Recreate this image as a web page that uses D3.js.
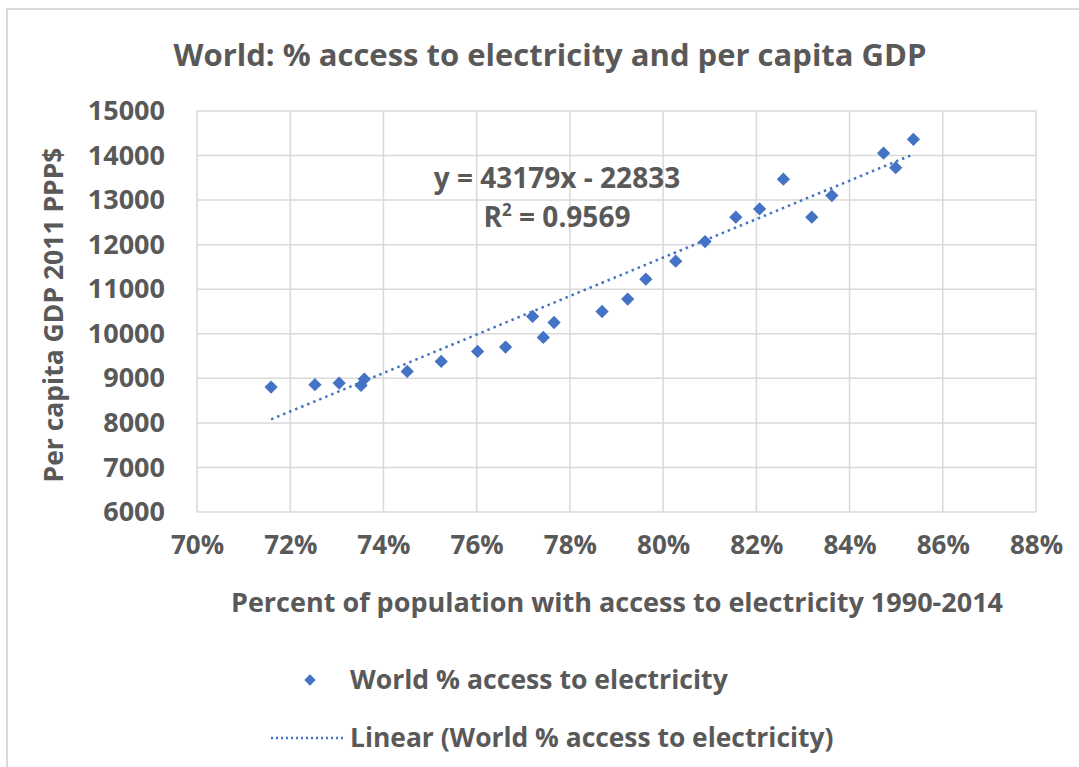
<!DOCTYPE html>
<html>
<head>
<meta charset="utf-8">
<script src="https://cdn.jsdelivr.net/npm/d3@7"></script>
<style>
  body { margin: 0; background: #fff; }
  text { font-family: "Open Sans", sans-serif; font-weight: 700; fill: #595959; }
</style>
</head>
<body>
<div id="theGraph"></div>
<script>
// access to electricity (share), 1990-2014
const access = [0.7159, 0.7253, 0.7305, 0.7352, 0.7359, 0.7451, 0.7524, 0.7602, 0.7662,
    0.7720, 0.7743, 0.7766, 0.7869, 0.7924, 0.7963, 0.8027, 0.8090, 0.8156,
    0.8207, 0.8258, 0.8319, 0.8362, 0.8473, 0.8499, 0.8537];
// per capita GDP, 2011 PPP$
const gdp = [8805, 8857, 8895, 8840, 8984, 9155, 9379, 9603, 9702,
    10388, 9917, 10253, 10500, 10778, 11226, 11630, 12070, 12617,
    12803, 13469, 12617, 13101, 14052, 13729, 14365];
const xTicks = [0.70, 0.72, 0.74, 0.76, 0.78, 0.80, 0.82, 0.84, 0.86, 0.88];
const yTicks = [6000, 7000, 8000, 9000, 10000, 11000, 12000, 13000, 14000, 15000];
const slope = 43179, intercept = -22833;

const width = 1079, height = 767,
    plot = {left: 197, top: 111, right: 1036, bottom: 512},
    blue = "#4472C4", grid = "#d9d9d9";

const svg = d3.select("#theGraph").append("svg").attr("width", width).attr("height", height);

// outer chart border
svg.append("rect").attr("x", 7).attr("y", 9).attr("width", 1100).attr("height", 800)
    .attr("fill", "none").attr("stroke", grid).attr("stroke-width", 2);

const xScale = d3.scaleLinear().domain([0.70, 0.88]).range([plot.left, plot.right]);
const yScale = d3.scaleLinear().domain([6000, 15000]).range([plot.bottom, plot.top]);

//grid
svg.append("g").selectAll("line").data(yTicks).enter().append("line")
    .attr("x1", plot.left).attr("x2", plot.right)
    .attr("y1", d=>yScale(d)).attr("y2", d=>yScale(d))
    .attr("stroke", grid).attr("stroke-width", 1.5);
svg.append("g").selectAll("line").data(xTicks).enter().append("line")
    .attr("x1", d=>xScale(d)).attr("x2", d=>xScale(d))
    .attr("y1", plot.top).attr("y2", plot.bottom)
    .attr("stroke", grid).attr("stroke-width", 1.5);

//axes (labels only)
const yAxis = svg.append("g").attr("transform", `translate(${plot.left - 32},0)`)
    .call(d3.axisLeft(yScale).tickValues(yTicks).tickSize(0).tickPadding(0).tickFormat(d3.format("d")));
const xAxis = svg.append("g").attr("transform", `translate(0,${plot.bottom + 24})`)
    .call(d3.axisBottom(xScale).tickValues(xTicks).tickSize(0).tickPadding(0).tickFormat(d3.format(".0%")));
[yAxis, xAxis].forEach(a => {
    a.select(".domain").remove();
    a.selectAll("text").attr("font-size", 27).attr("fill", "#595959")
        .style("font-family", "'Open Sans', sans-serif").style("font-weight", 700);
});
xAxis.selectAll("text").attr("font-size", 26);

//trendline
const xr = d3.extent(access);
svg.append("line")
    .attr("x1", xScale(xr[0])).attr("y1", yScale(slope * xr[0] + intercept))
    .attr("x2", xScale(xr[1])).attr("y2", yScale(slope * xr[1] + intercept))
    .attr("stroke", blue).attr("stroke-width", 2.5)
    .attr("stroke-dasharray", "2.5,4");

//points
const diamond = d3.symbol().type(d3.symbolSquare).size(88);
svg.append("g").selectAll("path").data(access).enter().append("path")
    .attr("d", diamond)
    .attr("transform", (d, i) => `translate(${xScale(d)},${yScale(gdp[i])}) rotate(45)`)
    .attr("fill", blue);

//texts
svg.append("text").attr("x", 550).attr("y", 66).attr("text-anchor", "middle").attr("font-size", 31)
    .text("World: % access to electricity and per capita GDP");
svg.append("text").attr("x", 617).attr("y", 612).attr("text-anchor", "middle").attr("font-size", 27)
    .text("Percent of population with access to electricity 1990-2014");
svg.append("text").attr("transform", "translate(63,315) rotate(-90)").attr("text-anchor", "middle").attr("font-size", 26.5)
    .text("Per capita GDP 2011 PPP$");

svg.append("text").attr("x", 557).attr("y", 188).attr("text-anchor", "middle").attr("font-size", 28)
    .text(`y = ${slope}x - ${-intercept}`);
const r2 = svg.append("text").attr("x", 557).attr("y", 227).attr("text-anchor", "middle").attr("font-size", 28);
r2.append("tspan").text("R");
r2.append("tspan").attr("font-size", 17).attr("dy", -11).text("2");
r2.append("tspan").attr("dy", 11).text(" = 0.9569");

//legend
svg.append("path").attr("d", d3.symbol().type(d3.symbolSquare).size(64))
    .attr("transform", "translate(310,680) rotate(45)").attr("fill", blue);
svg.append("text").attr("x", 350).attr("y", 689).attr("font-size", 26.6).text("World % access to electricity");
svg.append("line").attr("x1", 271).attr("x2", 345).attr("y1", 738).attr("y2", 738)
    .attr("stroke", blue).attr("stroke-width", 2.5).attr("stroke-dasharray", "2,3");
svg.append("text").attr("x", 350).attr("y", 747).attr("font-size", 26.4).text("Linear (World % access to electricity)");
</script>
</body>
</html>
